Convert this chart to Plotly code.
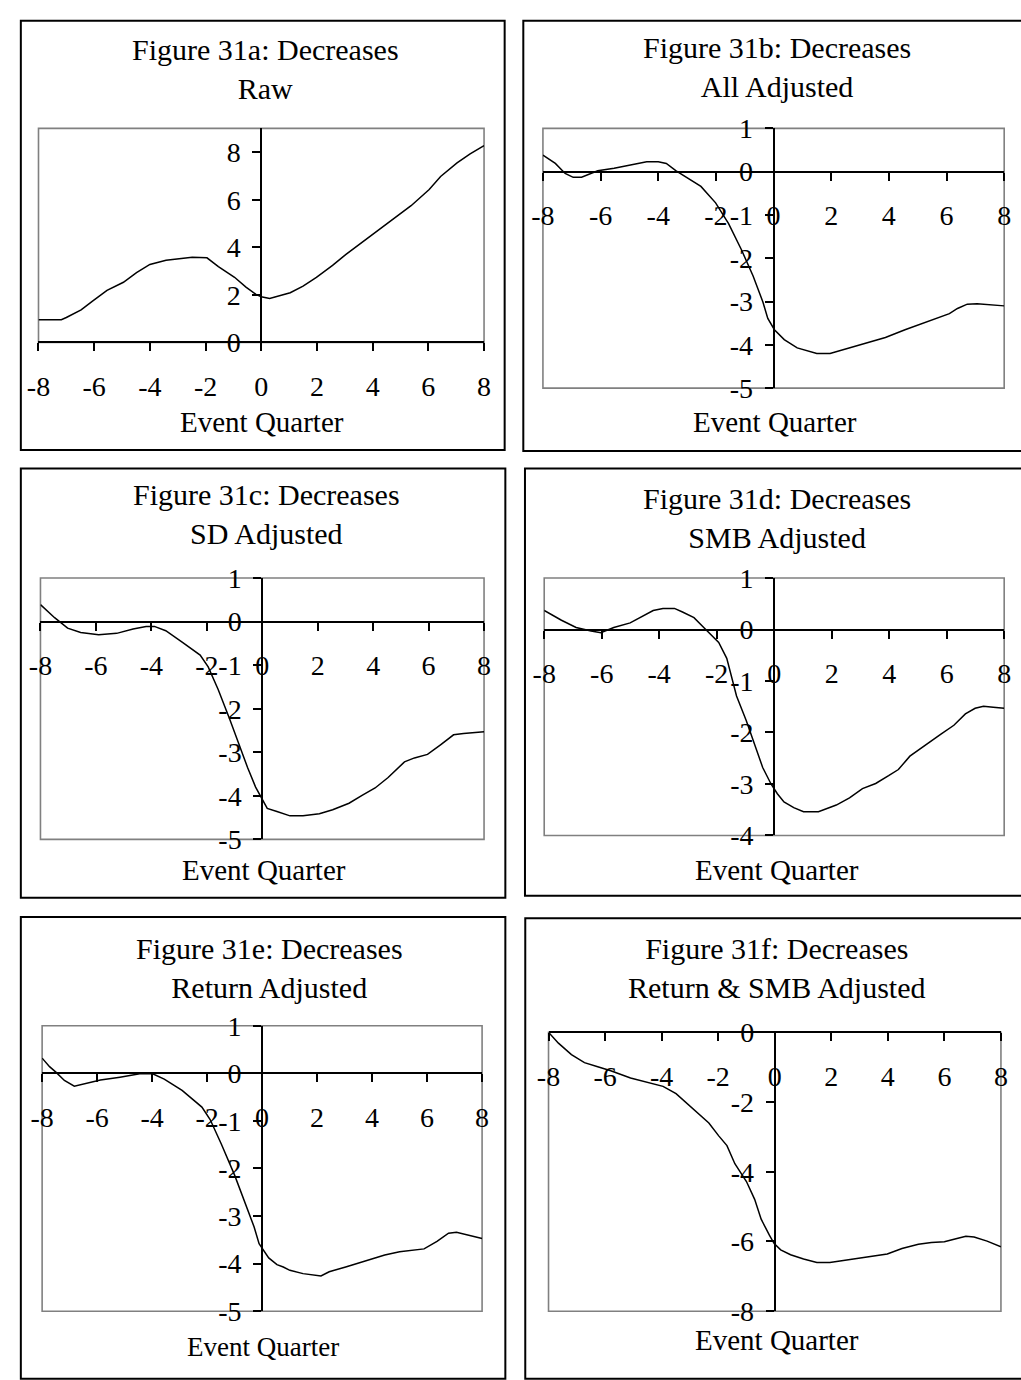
import plotly.graph_objects as go

# ---- data: cumulative abnormal measure by event quarter ----
a_x = [-8, -7.18, -7.0, -6.47, -6.06, -5.54, -4.95, -4.48, -4.0, -3.42, -2.48, -1.95, -1.54, -0.96,
       -0.55, -0.19, 0.0, 0.3, 1.04, 1.5, 1.98, 2.56, 3.03, 3.85, 4.68, 5.38, 6.03, 6.44, 7.03, 7.5, 8.0]
a_y = [0.96, 0.96, 1.05, 1.37, 1.74, 2.19, 2.53, 2.94, 3.28, 3.46, 3.58, 3.56, 3.19, 2.74,
       2.33, 2.02, 1.92, 1.85, 2.09, 2.37, 2.74, 3.24, 3.69, 4.40, 5.13, 5.75, 6.43, 6.98, 7.55, 7.93, 8.28]

b_x = [-8, -7.57, -7.23, -6.95, -6.66, -6.1, -5.53, -4.96, -4.4, -4.0, -3.72, -3.38, -2.92, -2.52,
       -2.01, -1.56, -1.11, -0.71, -0.37, -0.2, 0.03, 0.37, 0.82, 1.5, 1.96, 2.64, 3.2, 3.88, 4.56,
       5.02, 5.7, 6.1, 6.38, 6.72, 7.06, 7.63, 8.0]
b_y = [0.38, 0.19, -0.04, -0.13, -0.13, 0.02, 0.08, 0.15, 0.23, 0.23, 0.19, 0.02, -0.17, -0.34,
       -0.72, -1.2, -1.81, -2.41, -3.01, -3.39, -3.65, -3.88, -4.07, -4.2, -4.2, -4.07, -3.95, -3.83, -3.65,
       -3.54, -3.39, -3.28, -3.16, -3.06, -3.05, -3.07, -3.10]

c_x = [-8, -7.49, -7.02, -6.55, -5.9, -5.25, -4.66, -4.19, -3.89, -3.48, -2.89, -2.24, -1.95, -1.59,
       -1.18, -0.88, -0.53, -0.24, 0.0, 0.18, 0.53, 1.0, 1.47, 2.06, 2.54, 3.13, 3.6, 4.07, 4.54, 5.13,
       5.49, 5.96, 6.43, 6.9, 7.26, 7.61, 8.0]
c_y = [0.39, 0.09, -0.15, -0.25, -0.3, -0.27, -0.17, -0.11, -0.11, -0.21, -0.47, -0.77, -1.04, -1.56,
       -2.23, -2.76, -3.35, -3.8, -4.1, -4.29, -4.36, -4.46, -4.46, -4.41, -4.32, -4.17, -3.99, -3.82, -3.58, -3.22,
       -3.13, -3.05, -2.83, -2.6, -2.57, -2.55, -2.53]

d_x = [-8, -7.4, -6.89, -6.37, -6.03, -5.58, -5.01, -4.55, -4.21, -3.87, -3.47, -3.19, -2.79, -2.45,
       -2.22, -1.93, -1.65, -1.31, -0.97, -0.68, -0.4, -0.11, 0.11, 0.34, 0.68, 1.02, 1.54, 2.16, 2.62,
       3.07, 3.53, 3.98, 4.32, 4.72, 5.23, 5.8, 6.25, 6.65, 6.99, 7.28, 7.62, 8.0]
d_y = [0.37, 0.18, 0.04, -0.03, -0.06, 0.04, 0.13, 0.26, 0.37, 0.41, 0.41, 0.34, 0.23, 0.04,
       -0.09, -0.25, -0.56, -1.29, -1.77, -2.24, -2.68, -3.0, -3.19, -3.35, -3.46, -3.54, -3.54, -3.41, -3.27,
       -3.09, -2.99, -2.84, -2.72, -2.46, -2.25, -2.03, -1.86, -1.64, -1.53, -1.49, -1.51, -1.53]

e_x = [-8, -7.73, -7.49, -7.19, -6.83, -6.36, -5.88, -5.17, -4.45, -3.98, -3.56, -2.91, -2.19, -1.89,
       -1.48, -1.0, -0.65, -0.29, -0.11, 0.0, 0.24, 0.54, 0.77, 1.01, 1.49, 2.14, 2.44, 3.04, 3.75, 4.46,
       5.0, 5.53, 5.89, 6.36, 6.78, 7.07, 7.55, 8.0]
e_y = [0.32, 0.14, 0.02, -0.15, -0.27, -0.2, -0.14, -0.08, -0.01, -0.01, -0.12, -0.36, -0.71, -0.97,
       -1.49, -2.14, -2.68, -3.23, -3.58, -3.68, -3.88, -4.02, -4.07, -4.14, -4.21, -4.26, -4.17, -4.07, -3.94, -3.82,
       -3.75, -3.71, -3.69, -3.53, -3.36, -3.34, -3.4, -3.47]

f_x = [-8, -7.65, -7.19, -6.73, -6.26, -5.8, -5.1, -4.41, -3.95, -3.49, -2.91, -2.33, -1.98, -1.69,
       -1.41, -1.0, -0.71, -0.48, -0.19, -0.02, 0.21, 0.56, 1.02, 1.49, 1.95, 2.64, 3.34, 3.98, 4.5,
       5.08, 5.54, 6.0, 6.41, 6.76, 7.05, 7.51, 8.0]
f_y = [0.0, -0.31, -0.64, -0.87, -0.99, -1.1, -1.31, -1.46, -1.55, -1.76, -2.18, -2.6, -2.97, -3.25,
       -3.77, -4.28, -4.79, -5.36, -5.82, -6.06, -6.24, -6.38, -6.5, -6.6, -6.6, -6.52, -6.45, -6.36, -6.2,
       -6.08, -6.03, -6.01, -5.92, -5.85, -5.87, -5.99, -6.15]

titles = [
    "Figure 31a: Decreases<br>Raw",
    "Figure 31b: Decreases<br>All Adjusted",
    "Figure 31c: Decreases<br>SD Adjusted",
    "Figure 31d: Decreases<br>SMB Adjusted",
    "Figure 31e: Decreases<br>Return Adjusted",
    "Figure 31f: Decreases<br>Return & SMB Adjusted",
]
x_ticks = [-8, -6, -4, -2, 0, 2, 4, 6, 8]
y_ranges = [(0, 9), (-5, 1), (-5, 1), (-4, 1), (-5, 1), (-8, 0)]
y_ticks = [
    [0, 2, 4, 6, 8],
    [-5, -4, -3, -2, -1, 0, 1],
    [-5, -4, -3, -2, -1, 0, 1],
    [-4, -3, -2, -1, 0, 1],
    [-5, -4, -3, -2, -1, 0, 1],
    [-8, -6, -4, -2, 0],
]
x_label = "Event Quarter"

series = [(a_x, a_y), (b_x, b_y), (c_x, c_y), (d_x, d_y), (e_x, e_y), (f_x, f_y)]

# ---- page geometry (pixels) ----
W, H = 1021, 1380
FONT = "Liberation Serif"

# plot areas: (left, right, top, bottom)
areas = [
    (27, 481, 116, 335),
    (541, 1011, 116, 381.7),
    (29, 481, 576, 843.3),
    (542.3, 1011, 576, 839.3),
    (30.7, 479, 1034, 1326),
    (546.7, 1007.7, 1040.7, 1326),
]
# outer frames: (left, top, right, bottom); right/bottom edges run off the page
frames = [
    (9, 6, 502, 445),
    (521, 6, 1030, 446),
    (9, 464, 502.7, 903),
    (522.7, 464, 1030, 901),
    (9, 922.7, 502.7, 1395),
    (523, 924, 1030, 1395),
]
title_pos = [(258, 55), (780, 53), (259, 510), (779, 515), (262, 975), (780, 975)]
xlabel_pos = [(255, 416.7, 29), (777, 416.7, 29), (257, 874.3, 29),
              (779, 874.3, 29), (256, 1362.7, 27), (779, 1355, 29)]


def px(x):
    return x / W


def py(y):
    return 1 - y / H


fig = go.Figure()
shapes = []
annotations = []
layout = {}

for i, ((xs, ys), area, yr, yt) in enumerate(zip(series, areas, y_ranges, y_ticks)):
    n = "" if i == 0 else str(i + 1)
    xa, ya = "x" + n, "y" + n
    l, r, t, b = area
    xd = [px(l), px(r)]
    yd = [py(b), py(t)]
    # the axes cross at the origin
    x_at_zero = xd[0] + (0 - (-8)) / 16 * (xd[1] - xd[0])
    y_at_zero = yd[0] + (0 - yr[0]) / (yr[1] - yr[0]) * (yd[1] - yd[0])

    fig.add_trace(go.Scatter(x=xs, y=ys, mode="lines", xaxis=xa, yaxis=ya,
                             line=dict(color="black", width=1.5), showlegend=False,
                             hoverinfo="skip"))

    common = dict(showgrid=False, zeroline=False, showline=True, linecolor="black",
                  linewidth=2, ticks="outside", ticklen=8, tickwidth=2, tickcolor="black",
                  tickfont=dict(family=FONT, size=28, color="black"), fixedrange=True)
    layout["xaxis" + n] = dict(common, domain=xd, range=[-8, 8], tickvals=x_ticks,
                               ticktext=[str(v) for v in x_ticks], anchor="free",
                               position=y_at_zero, side="bottom", ticklabelstandoff=11)
    layout["yaxis" + n] = dict(common, domain=yd, range=list(yr), tickvals=yt,
                               ticktext=[str(v) for v in yt], anchor="free",
                               position=x_at_zero, side="left", ticklabelstandoff=6)

    # grey plot-area border
    shapes.append(dict(type="rect", xref=xa + " domain", yref=ya + " domain",
                       x0=0, x1=1, y0=0, y1=1, line=dict(color="#808080", width=1.6),
                       layer="below"))
    # black frame around each chart
    fl, ft, fr, fb = frames[i]
    shapes.append(dict(type="rect", xref="paper", yref="paper",
                       x0=px(fl), x1=px(fr), y0=py(fb), y1=py(ft),
                       line=dict(color="black", width=2)))

    tx, ty = title_pos[i]
    annotations.append(dict(text=titles[i], xref="paper", yref="paper", x=px(tx), y=py(ty),
                            xanchor="center", yanchor="middle", showarrow=False,
                            font=dict(family=FONT, size=30, color="black")))
    lx, ly, ls = xlabel_pos[i]
    annotations.append(dict(text=x_label, xref="paper", yref="paper", x=px(lx), y=py(ly),
                            xanchor="center", yanchor="middle", showarrow=False,
                            font=dict(family=FONT, size=ls, color="black")))

fig.update_layout(
    width=W, height=H, margin=dict(l=0, r=0, t=0, b=0),
    paper_bgcolor="white", plot_bgcolor="white",
    shapes=shapes, annotations=annotations, showlegend=False,
    **layout,
)

fig.write_html("out.html", config={"displayModeBar": False})
